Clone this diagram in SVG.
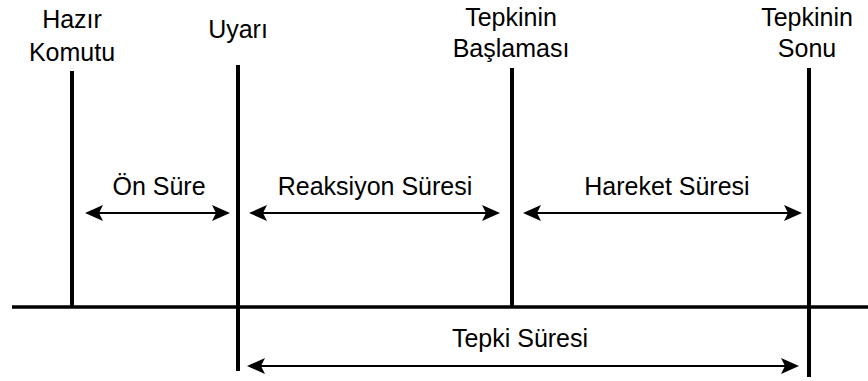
<svg xmlns="http://www.w3.org/2000/svg" width="868" height="381" viewBox="0 0 868 381">
  <style>
    .lbl { font-family: "Liberation Sans", Arial, sans-serif; font-size: 25px; fill: #000; text-anchor: middle; }
    .mark { stroke: #000; stroke-width: 4; fill: none; }
    .axis { stroke: #000; stroke-width: 3.5; fill: none; }
    .span { stroke: #000; stroke-width: 2; fill: none; marker-start: url(#head); marker-end: url(#head); }
  </style>
  <defs>
    <marker id="head" markerUnits="userSpaceOnUse" markerWidth="19" markerHeight="16" viewBox="0 0 19 16" refX="16" refY="8" orient="auto-start-reverse">
      <path d="M0,0 L18,8 L0,16 L4,8 Z" fill="#000"/>
    </marker>
  </defs>
  <rect width="868" height="381" fill="#fff"/>

  <!-- time axis -->
  <g id="axis">
    <line class="axis" x1="12" y1="307" x2="868" y2="307"/>
  </g>

  <!-- event markers with their labels -->
  <g id="hazir-komutu">
    <line class="mark" x1="72" y1="71" x2="72" y2="308"/>
    <text class="lbl" x="72" y="28">Hazır</text>
    <text class="lbl" x="72" y="61">Komutu</text>
  </g>
  <g id="uyari">
    <line class="mark" x1="238" y1="65" x2="238" y2="371"/>
    <text class="lbl" x="238" y="38">Uyarı</text>
  </g>
  <g id="tepkinin-baslamasi">
    <line class="mark" x1="512" y1="68" x2="512" y2="308"/>
    <text class="lbl" x="511" y="26">Tepkinin</text>
    <text class="lbl" x="511" y="57">Başlaması</text>
  </g>
  <g id="tepkinin-sonu">
    <line class="mark" x1="809" y1="68" x2="809" y2="377"/>
    <text class="lbl" x="807" y="26">Tepkinin</text>
    <text class="lbl" x="807" y="57">Sonu</text>
  </g>

  <!-- interval connectors -->
  <g id="connectors">
    <line class="span" x1="87" y1="213" x2="228" y2="213"/>
    <line class="span" x1="251" y1="213" x2="498" y2="213"/>
    <line class="span" x1="525" y1="213" x2="800" y2="213"/>
    <line class="span" x1="249" y1="366" x2="797" y2="366"/>
  </g>

  <!-- interval labels -->
  <g id="interval-labels">
    <text class="lbl" x="159" y="195">Ön Süre</text>
    <text class="lbl" x="375" y="195">Reaksiyon Süresi</text>
    <text class="lbl" x="667" y="195">Hareket Süresi</text>
    <text class="lbl" x="520" y="347">Tepki Süresi</text>
  </g>
</svg>
